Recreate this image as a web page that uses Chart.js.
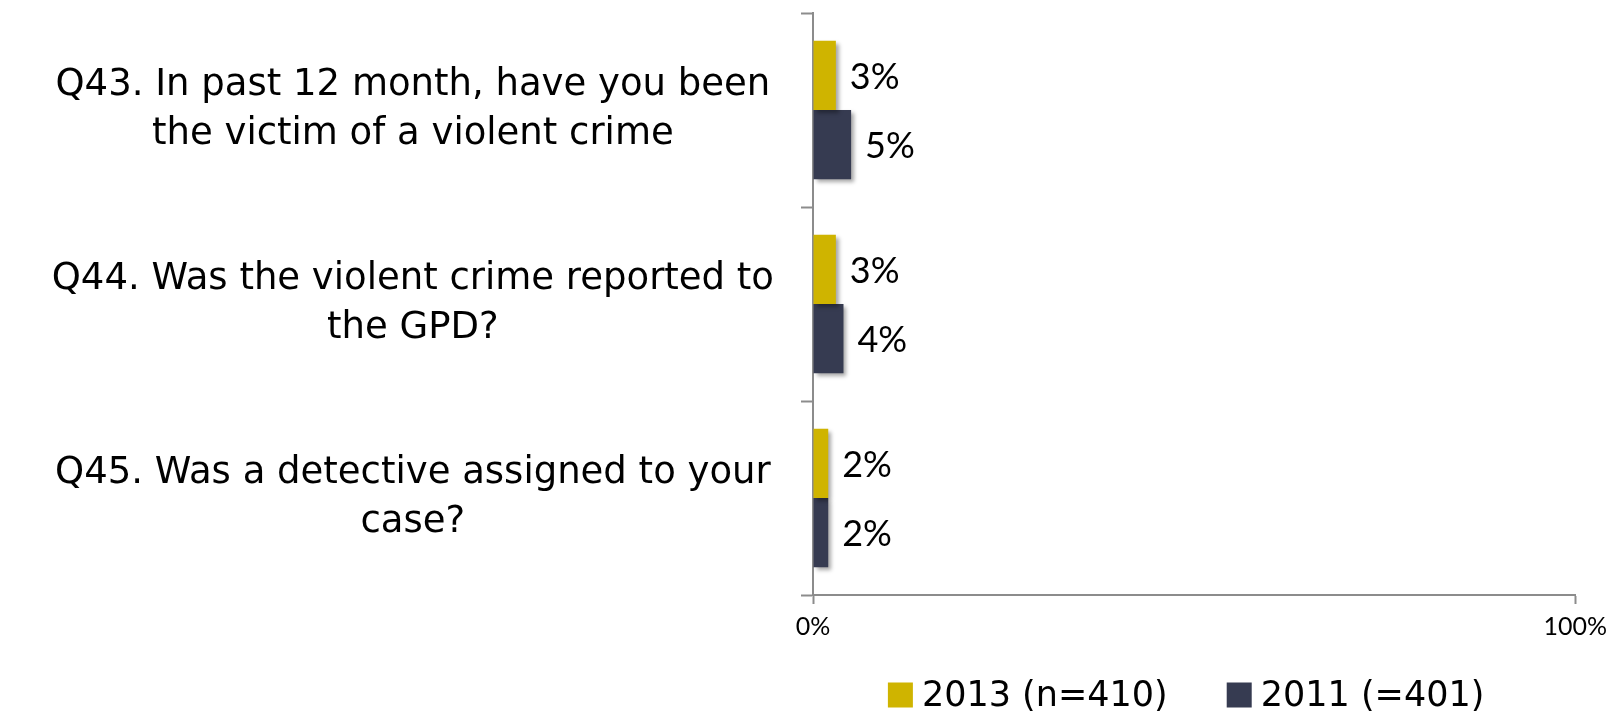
<!DOCTYPE html>
<html>
<head>
<meta charset="utf-8">
<script src="https://cdn.jsdelivr.net/npm/chart.js@4/dist/chart.umd.min.js"></script>
<style>
  html, body { margin: 0; padding: 0; background: #fff; }
  #wrap { width: 1615px; height: 716px; }
</style>
</head>
<body>
<div id="wrap"><canvas id="myChart" width="1615" height="716"></canvas></div>
<script>
const preguntas = [
  ["Q43. In past 12 month, have you been", "the victim of a violent crime"],
  ["Q44. Was the violent crime reported to", "the GPD?"],
  ["Q45. Was a detective assigned to your", "case?"],
];
const serie2013 = [3, 3, 2];
const serie2011 = [5, 4, 2];
const etiquetas = ["2013 (n=410)", "2011 (=401)"];
const colores = ["#CFB400", "#363B51"];

const fuenteTexto = "'DejaVu Sans', Verdana, sans-serif";
const fuenteNumeros = "Lato, 'Open Sans', sans-serif";

// soft drop shadow under the bars
const sombraBarras = {
  id: "sombraBarras",
  beforeDatasetsDraw(chart) {
    const ctx = chart.ctx;
    ctx.save();
    ctx.shadowColor = "rgba(0,0,0,0.35)";
    ctx.shadowOffsetX = 3;
    ctx.shadowOffsetY = 3;
    ctx.shadowBlur = 4;
  },
  afterDatasetsDraw(chart) {
    chart.ctx.restore();
  },
};

// value text to the right of every bar
const valoresBarras = {
  id: "valoresBarras",
  afterDraw(chart) {
    const ctx = chart.ctx;
    ctx.save();
    ctx.font = "36px " + fuenteNumeros;
    ctx.fillStyle = "#000";
    ctx.textAlign = "left";
    ctx.textBaseline = "middle";
    chart.data.datasets.forEach((ds, i) => {
      chart.getDatasetMeta(i).data.forEach((bar, j) => {
        ctx.fillText(ds.data[j] + "%", bar.x + 14, bar.y + 2);
      });
    });
    ctx.restore();
  },
};

// legend centred under the plot area
const leyendaAbajo = {
  id: "leyendaAbajo",
  afterDraw(chart) {
    const ctx = chart.ctx;
    const area = chart.chartArea;
    const caja = 25;
    const hueco = 9;
    const separacion = 59;
    ctx.save();
    ctx.font = "35px " + fuenteTexto;
    ctx.textBaseline = "middle";
    ctx.textAlign = "left";
    const anchos = chart.data.datasets.map((ds) => ctx.measureText(ds.label).width);
    let total = 0;
    anchos.forEach((w, i) => {
      total += caja + hueco + w + (i > 0 ? separacion : 0);
    });
    let x = (area.left + area.right) / 2 - total / 2 - 8;
    const y = 695;
    chart.data.datasets.forEach((ds, i) => {
      ctx.fillStyle = ds.backgroundColor;
      ctx.fillRect(x, y - caja / 2, caja, caja);
      x += caja + hueco;
      ctx.fillStyle = "#000";
      ctx.fillText(ds.label, x, y + 2);
      x += anchos[i] + separacion;
    });
    ctx.restore();
  },
};

const ctx = document.getElementById("myChart").getContext("2d");
const myChart = new Chart(ctx, {
  type: "bar",
  data: {
    labels: preguntas,
    datasets: [
      {
        label: etiquetas[0],
        data: serie2013,
        backgroundColor: colores[0],
        categoryPercentage: 0.715,
        barPercentage: 1,
      },
      {
        label: etiquetas[1],
        data: serie2011,
        backgroundColor: colores[1],
        categoryPercentage: 0.715,
        barPercentage: 1,
      },
    ],
  },
  options: {
    indexAxis: "y",
    responsive: false,
    animation: false,
    layout: {
      padding: { top: 13, right: 35, left: 0, bottom: 66 },
    },
    scales: {
      x: {
        min: 0,
        max: 100,
        border: { color: "#8c8c8c", width: 2 },
        grid: {
          drawOnChartArea: false,
          tickLength: 9,
          tickWidth: 2,
          color: "#8c8c8c",
        },
        ticks: {
          stepSize: 100,
          padding: 8,
          color: "#000",
          font: { family: fuenteNumeros, size: 25 },
          callback: (v) => v + "%",
        },
      },
      y: {
        border: { color: "#8c8c8c", width: 2 },
        grid: {
          drawOnChartArea: false,
          offset: true,
          tickLength: 12,
          tickWidth: 2,
          color: "#8c8c8c",
        },
        ticks: {
          crossAlign: "center",
          padding: 27,
          color: "#000",
          font: { family: fuenteTexto, size: 37, lineHeight: 1.33 },
        },
        afterFit(scale) {
          scale.width = 813;
          // labels sit mid-category, no extra room needed above/below
          scale.paddingTop = 0;
          scale.paddingBottom = 0;
        },
      },
    },
    plugins: {
      legend: { display: false },
      tooltip: { enabled: false },
    },
  },
  plugins: [sombraBarras, valoresBarras, leyendaAbajo],
});
</script>
</body>
</html>
